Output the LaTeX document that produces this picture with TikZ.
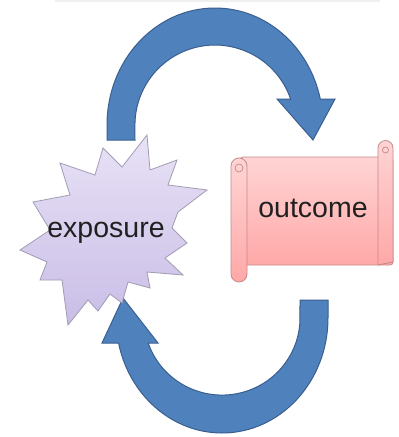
\documentclass[tikz,border=0pt]{standalone}
\usepackage{fontspec}
\setmainfont{Liberation Sans}
\definecolor{arrowblue}{HTML}{4F81BD}
\definecolor{arrowedge}{HTML}{3A5F8F}
\definecolor{starTop}{HTML}{E8E2F6}
\definecolor{starBot}{HTML}{C9BDE6}
\definecolor{starEdge}{HTML}{A09CB4}
\definecolor{scrollTop}{HTML}{FFD4D4}
\definecolor{scrollBot}{HTML}{FFA8A8}
\definecolor{scrollEdge}{HTML}{C58A8A}
\definecolor{textdark}{HTML}{202020}
\begin{document}
\begin{tikzpicture}[x=1pt,y=1pt,
  bluearrow/.style={fill=arrowblue, draw=arrowedge, line width=1pt, line join=miter},
  starshape/.style={top color=starTop, bottom color=starBot, draw=starEdge, line width=0.8pt, line join=miter},
  scrollpart/.style={top color=scrollTop, bottom color=scrollBot, draw=scrollEdge, line width=0.8pt},
  bigtext/.style={font=\fontsize{28.5}{30}\selectfont, text=textdark, inner sep=0pt}]
\useasboundingbox (0,0) rectangle (399,-437);
\fill[white] (0,0) rectangle (399,-437);
\fill[gray!12] (55,0) rectangle (380,-2);
% top arrow
\draw[bluearrow] (107,-140) -- (107,-125)
  arc[start angle=180,end angle=12.8,x radius=108,y radius=117]
  -- (335,-99) -- (313,-140) -- (277,-99) -- (290.6,-99)
  arc[start angle=19,end angle=180,x radius=80,y radius=80]
  -- (135,-140) -- cycle;
% bottom arrow
\draw[bluearrow] (300,-300) -- (328,-300) -- (328,-318)
  arc[start angle=0,end angle=-167.4,x radius=106,y radius=115]
  -- (102,-343) -- (123,-298) -- (158,-343) -- (148.2,-343)
  arc[start angle=-161.1,end angle=0,x radius=78,y radius=77]
  -- cycle;
% explosion
\shade[starshape] (20,-250) -- (47,-262) -- (40,-280) -- (62,-280) -- (68,-325)
  -- (88,-300) -- (98,-311) -- (110,-294) -- (122,-303) -- (128,-282)
  -- (150,-288) -- (147,-272) -- (183,-275) -- (165,-258) -- (187,-243)
  -- (172,-228) -- (178,-212) -- (207,-190) -- (168,-185) -- (177,-160)
  -- (150,-170) -- (147,-135) -- (122,-167) -- (103,-148) -- (95,-175)
  -- (60,-163) -- (70,-195) -- (33,-202) -- (50,-230) -- cycle;
\node[bigtext] (exposure) at (106,-233) {exposure};
% scroll
\shade[scrollpart, rounded corners=3pt] (240,-157) rectangle (393,-265);
\shade[scrollpart] (378,-265) -- (378,-148) arc[start angle=180,end angle=0,radius=7.5] -- (393,-262) -- cycle;
\draw[scrollEdge, line width=0.7pt] (385.5,-150) circle[radius=3];
\shade[scrollpart] (231,-166) arc[start angle=180,end angle=0,radius=8]
  -- (247,-274) arc[start angle=0,end angle=-180,radius=8] -- cycle;
\draw[scrollEdge, line width=0.7pt] (239,-168) circle[radius=4];
\node[bigtext] (outcome) at (313,-208) {outcome};
\end{tikzpicture}
\end{document}
